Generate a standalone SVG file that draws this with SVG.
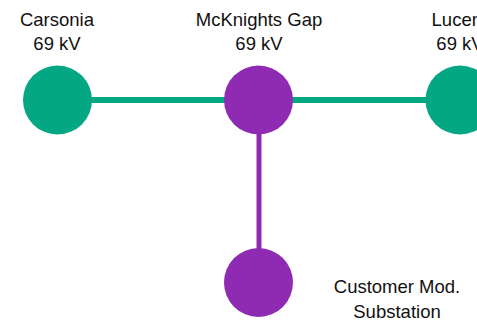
<svg xmlns="http://www.w3.org/2000/svg" width="477" height="321" viewBox="0 0 477 321">
<style>
.lbl{font-family:"Liberation Sans",Arial,sans-serif;font-size:18.5px;fill:#111;text-anchor:middle}
.g{fill:#03A882}
.p{fill:#8F2AB2}
</style>
<rect width="477" height="321" fill="#fff"/>
<g id="connectors">
<line x1="57" y1="100" x2="460" y2="100" stroke="#03A882" stroke-width="6"/>
<line x1="259" y1="100" x2="259" y2="283" stroke="#8F2AB2" stroke-width="5"/>
</g>
<g id="carsonia">
<circle class="g" cx="57.5" cy="100" r="34.5"/>
<text class="lbl" x="57" y="26">Carsonia</text>
<text class="lbl" x="57" y="50">69 kV</text>
</g>
<g id="mcknights">
<circle class="p" cx="258.5" cy="100" r="34.5"/>
<text class="lbl" x="259" y="26">McKnights Gap</text>
<text class="lbl" x="259" y="50">69 kV</text>
</g>
<g id="lucerne">
<circle class="g" cx="460" cy="100" r="34.5"/>
<text class="lbl" x="465" y="26">Lucerne</text>
<text class="lbl" x="460" y="50">69 kV</text>
</g>
<g id="customer">
<circle class="p" cx="258.5" cy="282.5" r="34.5"/>
<text class="lbl" x="397" y="293">Customer Mod.</text>
<text class="lbl" x="397" y="318">Substation</text>
</g>
</svg>
